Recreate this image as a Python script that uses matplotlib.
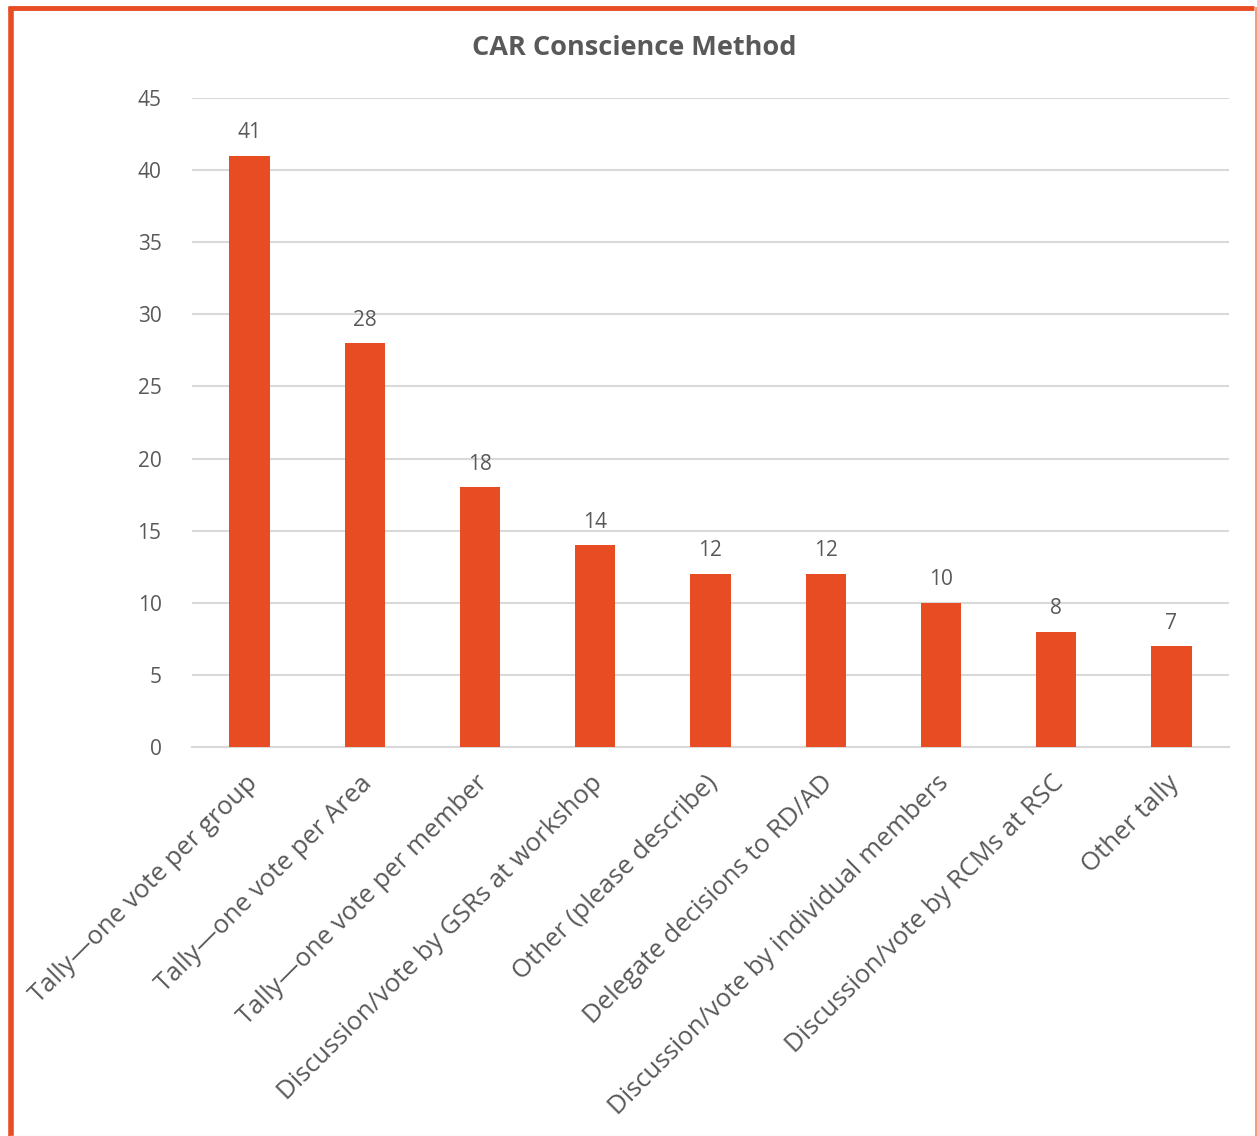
import matplotlib
matplotlib.use("Agg")
import matplotlib.pyplot as plt
from matplotlib.lines import Line2D
from matplotlib.transforms import ScaledTranslation

categories = [
    "Tally\u2014one vote per group",
    "Tally\u2014one vote per Area",
    "Tally\u2014one vote per member",
    "Discussion/vote by GSRs at workshop",
    "Other (please describe)",
    "Delegate decisions to RD/AD",
    "Discussion/vote by individual members",
    "Discussion/vote by RCMs at RSC",
    "Other tally",
]
counts = [41, 28, 18, 14, 12, 12, 10, 8, 7]
y_ticks = [0, 5, 10, 15, 20, 25, 30, 35, 40, 45]
title = "CAR Conscience Method"

bar_color = "#E84C22"
text_color = "#595959"
grid_color = "#D9D9D9"

plt.rcParams["font.family"] = ["Open Sans", "DejaVu Sans"]

W, H = 1257, 1136
fig = plt.figure(figsize=(W / 100, H / 100), dpi=100)
fig.patch.set_facecolor("white")

# plot area in pixel coordinates
left, right, top, bottom = 192, 1229, 98, 747
ax = fig.add_axes([left / W, 1 - bottom / H, (right - left) / W, (bottom - top) / H])

x = range(len(categories))
ax.bar(x, counts, width=0.35, color=bar_color, zorder=3)
ax.set_xlim(-0.5, len(categories) - 0.5)
ax.set_ylim(0, 45)
ax.set_yticks(y_ticks)
ax.set_yticklabels([str(t) for t in y_ticks], fontsize=15, color=text_color)
ax.yaxis.grid(True, color=grid_color, linewidth=1.5, zorder=0)
ax.tick_params(axis="y", length=0, pad=22)
ax.tick_params(axis="x", length=0, pad=17)
for side in ["top", "right", "left"]:
    ax.spines[side].set_visible(False)
ax.spines["bottom"].set_color(grid_color)
ax.spines["bottom"].set_linewidth(1.5)

ax.set_xticks(list(x))
ax.set_xticklabels(categories, rotation=45, ha="right", rotation_mode="anchor",
                   fontsize=18.5, color=text_color)
shift = ScaledTranslation(-5 / 100, 0, fig.dpi_scale_trans)
for lbl in ax.get_xticklabels():
    lbl.set_transform(lbl.get_transform() + shift)

for xi, v in zip(x, counts):
    ax.annotate(str(v), (xi, v), xytext=(0, 9), textcoords="offset points",
                ha="center", va="bottom", fontsize=15, color=text_color)

fig.text(634 / W, 1 - 48 / H, title, ha="center", va="center",
         fontsize=19.5, fontweight="bold", color=text_color)

# frame around the chart
def px_line(x0, y0, x1, y1, color, lw):
    fig.add_artist(Line2D([x0 / W, x1 / W], [1 - y0 / H, 1 - y1 / H],
                          transform=fig.transFigure, color=color, linewidth=lw,
                          solid_capstyle="butt"))

px_line(8, 8, 1254, 8, bar_color, 3.5)
px_line(10.5, 7, 10.5, 1136, bar_color, 4)
px_line(1255.5, 7, 1255.5, 1136, "#F08A66", 1.2)
px_line(10, 1135.5, 1254, 1135.5, "#EDEDED", 1)

fig.savefig("out.png", dpi=100)
